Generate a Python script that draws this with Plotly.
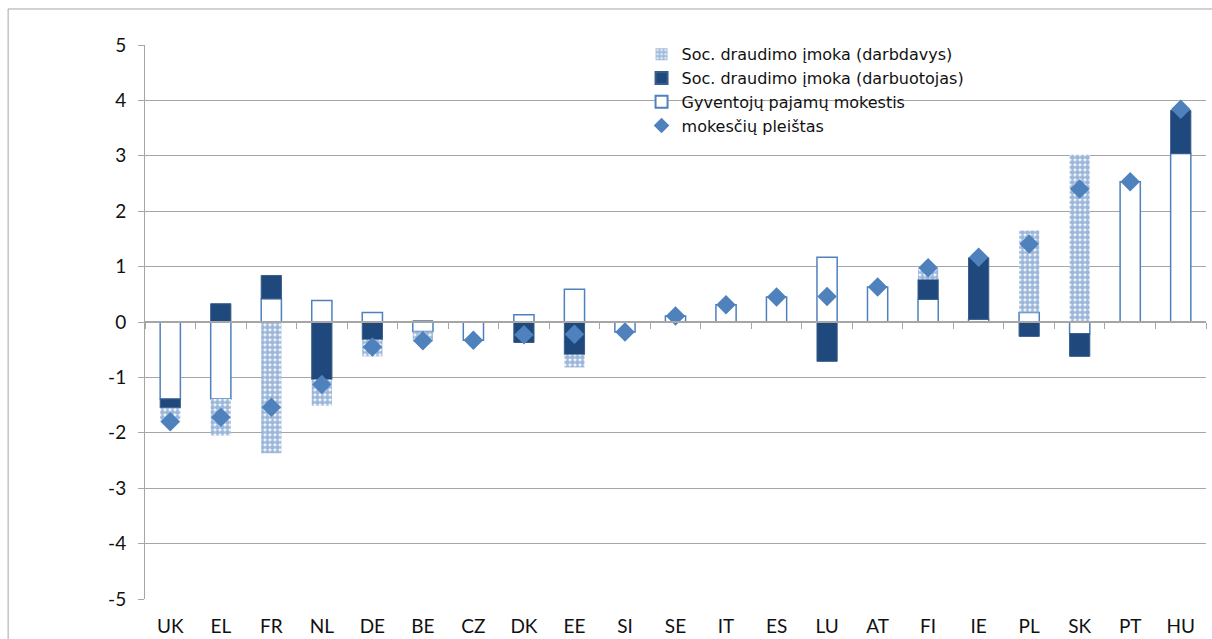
import plotly.graph_objects as go

# valstybės
countries = ['UK', 'EL', 'FR', 'NL', 'DE', 'BE', 'CZ', 'DK', 'EE', 'SI', 'SE',
             'IT', 'ES', 'LU', 'AT', 'FI', 'IE', 'PL', 'SK', 'PT', 'HU']

# pokyčiai, proc. p. (nuskaityta nuo paveikslo)
gpm = [-1.39, -1.39, 0.42, 0.39, 0.17, -0.17, -0.33, 0.13, 0.59, -0.18, 0.11,
       0.31, 0.45, 1.17, 0.63, 0.41, 0.05, 0.17, -0.21, 2.53, 3.04]
darbuotojas = [-0.16, 0.33, 0.42, -1.04, -0.32, 0.02, None, -0.37, -0.59, None, None,
               None, None, -0.71, None, 0.36, 1.11, -0.26, -0.41, None, 0.78]
darbdavys = [-0.25, -0.66, -2.37, -0.47, -0.30, -0.18, None, None, -0.23, None, None,
             None, None, None, None, 0.20, None, 1.48, 3.02, None, None]
pleistas = [-1.80, -1.72, -1.54, -1.13, -0.45, -0.34, -0.33, -0.23, -0.22, -0.18, 0.11,
            0.31, 0.45, 0.46, 0.63, 0.98, 1.17, 1.41, 2.40, 2.53, 3.84]

y_ticks = [-5, -4, -3, -2, -1, 0, 1, 2, 3, 4, 5]
y_labels = ['-5', '-4', '-3', '-2', '-1', '0', '1', '2', '3', '4', '5']

BLUE = '#4f81bd'
NAVY = '#1f497d'
GRID = '#a6a6a6'
FONT = 'Lato, Carlito, sans-serif'

fig = go.Figure()

fig.add_trace(go.Bar(
    x=countries, y=gpm, name='Gyventojų pajamų mokestis',
    marker=dict(color='white', line=dict(color=BLUE, width=1.5)),
    legendrank=3
))
fig.add_trace(go.Bar(
    x=countries, y=darbuotojas, name='Soc. draudimo įmoka (darbuotojas)',
    marker=dict(color=NAVY, line=dict(color='#385d8a', width=1)),
    legendrank=2
))
fig.add_trace(go.Bar(
    x=countries, y=darbdavys, name='Soc. draudimo įmoka (darbdavys)',
    marker=dict(color='white', line=dict(width=0),
                pattern=dict(shape='.', fgcolor='#3a70b6', bgcolor='white',
                             size=5, solidity=0.78)),
    legendrank=1
))
# deimantai ant antros (perdengtos) x ašies, kuri nubrėžia nulio liniją
fig.add_trace(go.Scatter(
    x=countries, y=pleistas, name='mokesčių pleištas', xaxis='x2',
    mode='markers', marker=dict(symbol='diamond', size=15, color=BLUE),
    legendrank=4
))

fig.update_layout(
    barmode='relative',
    bargap=0.6,
    width=1212, height=639,
    margin=dict(l=145, r=6, t=45, b=40),
    plot_bgcolor='white',
    paper_bgcolor='white',
    font=dict(family=FONT, size=19, color='#111111'),
    showlegend=True,
    legend=dict(x=0.468, y=1.014, xanchor='left', yanchor='top',
                bgcolor='rgba(255,255,255,0)',
                font=dict(family='DejaVu Sans, sans-serif', size=16),
                tracegroupgap=0, itemsizing='constant'),
    xaxis=dict(type='category', range=[-0.5, 20.5], showgrid=False,
               showline=False, ticks='', ticklabelstandoff=14, automargin=False),
    xaxis2=dict(type='category', overlaying='x', matches='x', anchor='free',
                position=0.5, side='bottom', showline=True, linecolor=GRID,
                linewidth=1.5, ticks='outside', tickson='boundaries', ticklen=6,
                tickcolor=GRID, showticklabels=False, showgrid=False),
    yaxis=dict(range=[-5, 5], tickmode='array', tickvals=y_ticks, ticktext=y_labels,
               showgrid=True, gridcolor=GRID, gridwidth=1, automargin=False,
               zeroline=False, showline=True, linecolor=GRID, linewidth=1,
               ticks='outside', ticklen=6, tickcolor=GRID, ticklabelstandoff=8),
    shapes=[dict(type='rect', xref='paper', yref='paper',
                 x0=-0.129, x1=1.05, y0=-0.2, y1=1.065,
                 line=dict(color=GRID, width=1), layer='below')]
)

# puslapio paraštė 0, kad 1212x639 figūra tilptų lange
fig.write_html("out.html", config={'displayModeBar': False},
               post_script="document.body.style.margin='0';")
